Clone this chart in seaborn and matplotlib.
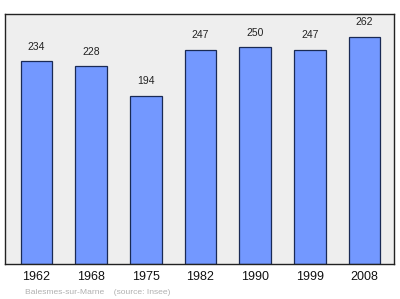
import matplotlib
matplotlib.use("Agg")
import matplotlib.pyplot as plt
import seaborn as sns
import pandas as pd

years = ["1962", "1968", "1975", "1982", "1990", "1999", "2008"]
population = [234, 228, 194, 247, 250, 247, 262]
source_text = "Balesmes-sur-Marne    (source: Insee)"

df = pd.DataFrame({"year": years, "pop": population})

sns.set_style("white")
plt.rcParams['font.family'] = ['Liberation Sans', 'DejaVu Sans']

fig = plt.figure(figsize=(4.0, 2.99), dpi=100)
ax = fig.add_axes([5/400, 1 - 264/299, 389/400, 250/299])
ax.set_facecolor("#eeeeee")

sns.barplot(data=df, x="year", y="pop", ax=ax, color="#7398ff", saturation=1,
            width=0.58, edgecolor="#1a2a55", linewidth=0.9)

for i, v in enumerate(population):
    ax.annotate(str(v), (i, v), xytext=(0, 7), textcoords="offset points",
                ha="center", va="bottom", fontsize=7.5, color="#222222")

ax.set_xlim(-0.576, 6.54)
ax.set_ylim(0, 288.5)
ax.set_yticks([])
ax.set_xlabel("")
ax.set_ylabel("")
ax.tick_params(axis="x", length=0, labelsize=9, pad=5, colors="#111111")
for s in ax.spines.values():
    s.set_visible(True)
    s.set_color("#222222")
    s.set_linewidth(1.0)

fig.text(25/400, 1 - 292/299, source_text, fontsize=6.1, color="#b0b0b0",
         ha="left", va="center")

fig.savefig("out.png", dpi=100)
